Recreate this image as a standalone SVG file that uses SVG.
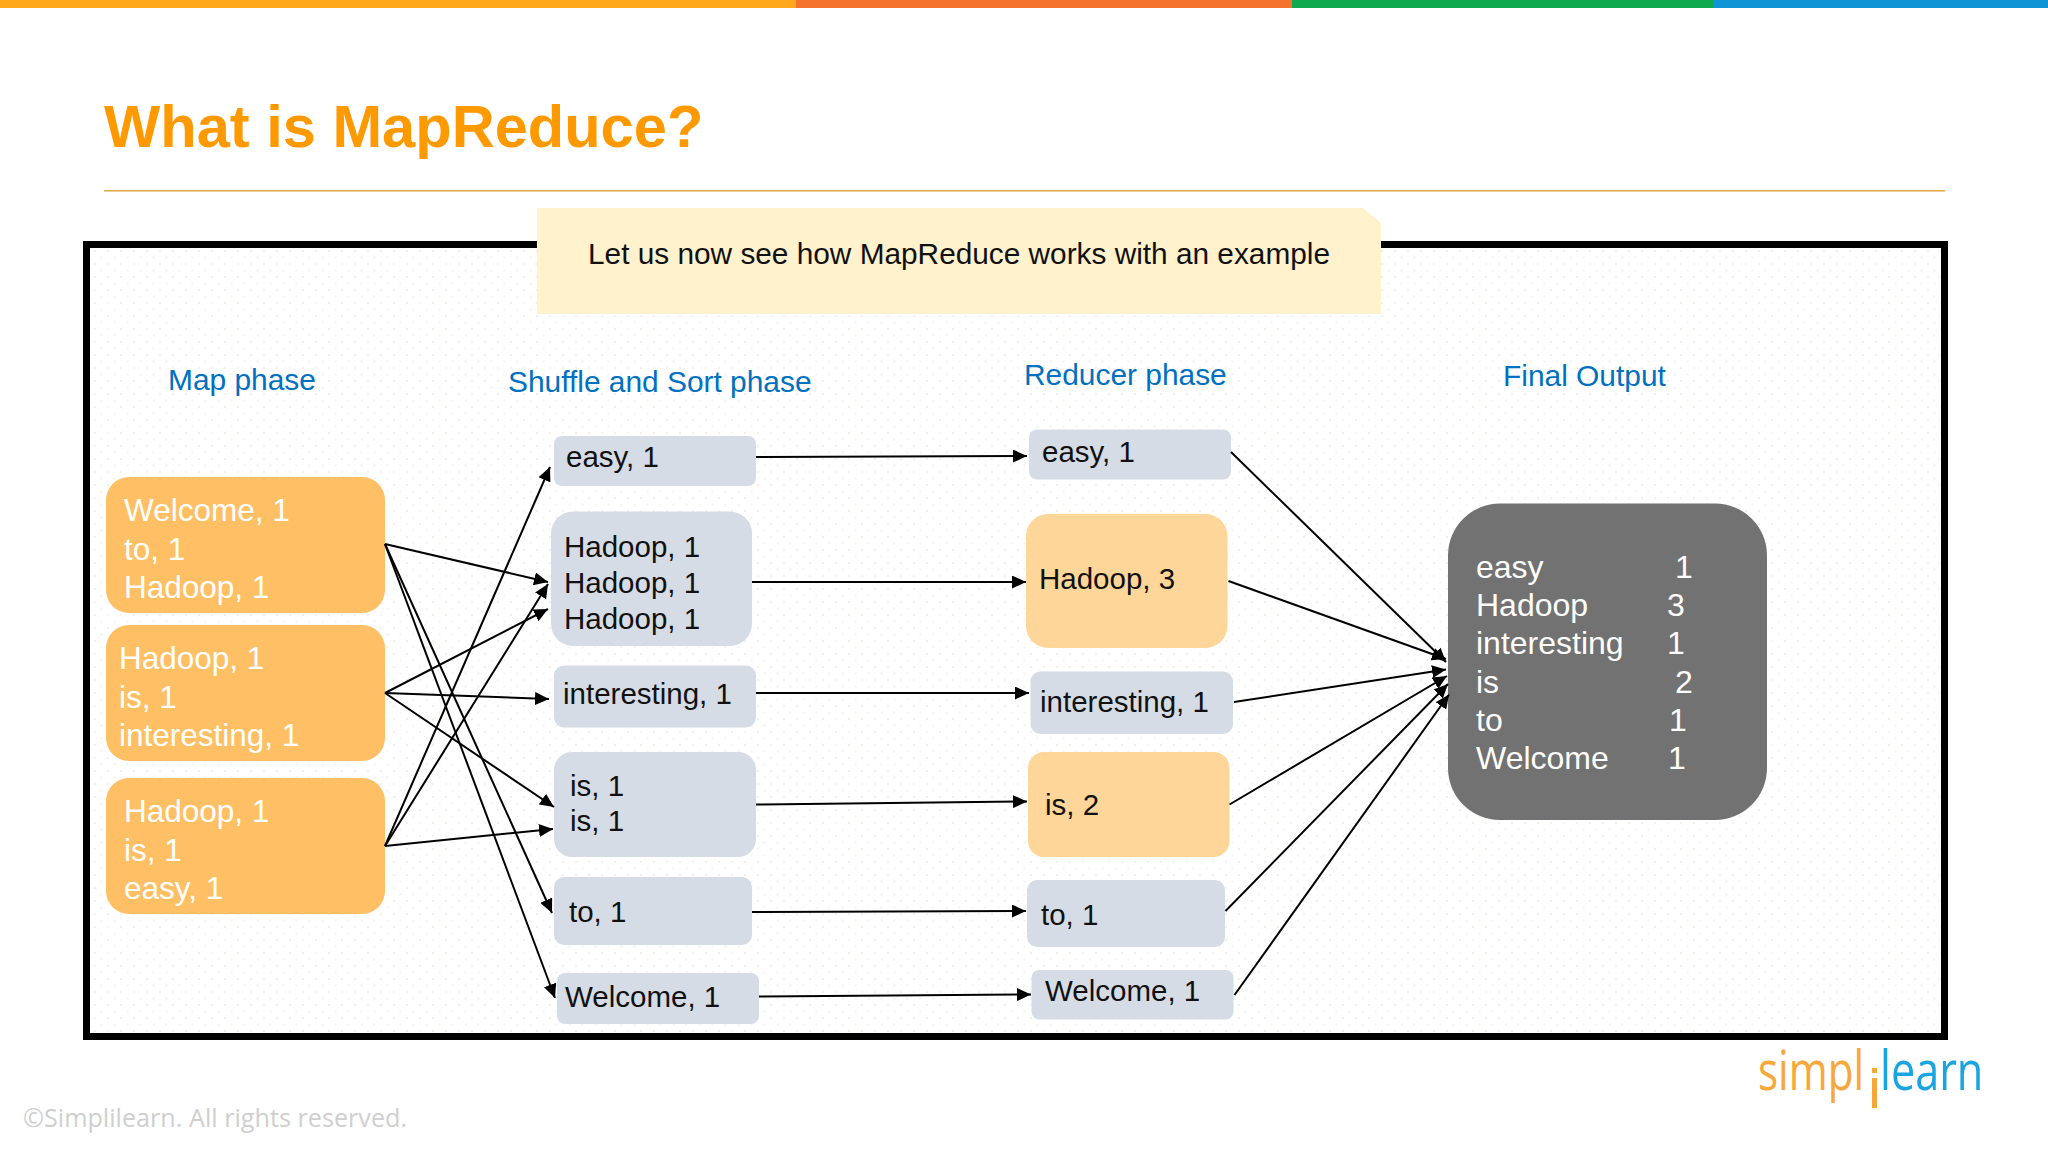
<svg xmlns="http://www.w3.org/2000/svg" width="2048" height="1152" viewBox="0 0 2048 1152">
<style>
text{font-family:"Liberation Sans",Arial,sans-serif}
.map{fill:#FFBF64}.gray{fill:#D6DCE5}.red{fill:#FFD699}
.w{font-size:31.500px;fill:#fff}.k{font-size:29.500px;fill:#111}
.h{font-size:29.900px;fill:#0070C0}.o{font-size:32px;fill:#fff}
.c line{stroke:#000;stroke-width:2;marker-end:url(#a)}
</style>
<defs>
<marker id="a" markerUnits="userSpaceOnUse" markerWidth="15" markerHeight="13" refX="14" refY="6.5" orient="auto"><path d="M0 0L14 6.5L0 13z" fill="#000"/></marker>
<pattern id="d" width="13" height="13" patternUnits="userSpaceOnUse"><rect x="3" y="3" width="2" height="2" fill="#F6F1E8"/><rect x="9.500" y="9.500" width="2" height="2" fill="#F2F2EE"/></pattern>
</defs>
<rect width="2048" height="1152" fill="#fff"/>
<g id="topbar"><rect width="796" height="8" fill="#FFA71A"/><rect x="796" width="496" height="8" fill="#F4722B"/><rect x="1292" width="421" height="8" fill="#0EA84F"/><rect x="1713" width="335" height="8" fill="#0F95D6"/></g>
<text id="title" x="104" y="147" font-size="59.600" font-weight="700" fill="#FF9900">What is MapReduce?</text>
<rect x="104" y="190" width="1841" height="1.6" fill="#E3AE55"/>
<rect id="frame" x="86.5" y="244.500" width="1858" height="792" fill="url(#d)" stroke="#000" stroke-width="7"/>
<g id="callout"><path d="M537 208H1363L1381 223V314H537z" fill="#FFF2CC"/><text x="588" y="264" font-size="29.800" fill="#111">Let us now see how MapReduce works with an example</text></g>
<g id="headers">
<text class="h" x="168" y="390">Map phase</text>
<text class="h" x="508" y="392">Shuffle and Sort phase</text>
<text class="h" x="1024" y="385">Reducer phase</text>
<text class="h" x="1503" y="386">Final Output</text>
</g>
<g id="map1"><rect class="map" x="106" y="477" width="279" height="136" rx="23"/><text class="w" x="124" y="521">Welcome, 1</text><text class="w" x="124" y="560">to, 1</text><text class="w" x="124" y="598">Hadoop, 1</text></g>
<g id="map2"><rect class="map" x="106" y="625" width="279" height="136" rx="23"/><text class="w" x="119" y="669">Hadoop, 1</text><text class="w" x="119" y="708">is, 1</text><text class="w" x="119" y="746">interesting, 1</text></g>
<g id="map3"><rect class="map" x="106" y="778" width="279" height="136" rx="23"/><text class="w" x="124" y="822">Hadoop, 1</text><text class="w" x="124" y="861">is, 1</text><text class="w" x="124" y="899">easy, 1</text></g>
<g id="s-easy"><rect class="gray" x="554" y="436" width="202" height="50" rx="8"/><text class="k" x="566" y="467">easy, 1</text></g>
<g id="s-hadoop"><rect class="gray" x="551" y="511.500" width="201" height="134.500" rx="22"/><text class="k" x="564" y="557">Hadoop, 1</text><text class="k" x="564" y="593">Hadoop, 1</text><text class="k" x="564" y="629">Hadoop, 1</text></g>
<g id="s-interesting"><rect class="gray" x="554" y="665.500" width="202" height="62" rx="10"/><text class="k" x="563" y="704">interesting, 1</text></g>
<g id="s-is"><rect class="gray" x="554" y="752" width="202" height="105" rx="18"/><text class="k" x="570" y="796">is, 1</text><text class="k" x="570" y="831">is, 1</text></g>
<g id="s-to"><rect class="gray" x="554" y="877" width="198" height="68" rx="10"/><text class="k" x="569" y="922">to, 1</text></g>
<g id="s-welcome"><rect class="gray" x="557" y="973" width="202" height="51" rx="8"/><text class="k" x="565" y="1007">Welcome, 1</text></g>
<g id="r-easy"><rect class="gray" x="1029" y="429.500" width="202" height="50" rx="8"/><text class="k" x="1042" y="462">easy, 1</text></g>
<g id="r-hadoop"><rect class="red" x="1026" y="514" width="201.500" height="134" rx="22"/><text class="k" x="1039" y="589">Hadoop, 3</text></g>
<g id="r-interesting"><rect class="gray" x="1030.500" y="671.500" width="202.500" height="62.500" rx="10"/><text class="k" x="1040" y="712">interesting, 1</text></g>
<g id="r-is"><rect class="red" x="1028" y="752" width="201.500" height="105" rx="16"/><text class="k" x="1045" y="815">is, 2</text></g>
<g id="r-to"><rect class="gray" x="1027" y="880" width="198" height="67" rx="10"/><text class="k" x="1041" y="925">to, 1</text></g>
<g id="r-welcome"><rect class="gray" x="1031.500" y="970" width="202" height="49.500" rx="8"/><text class="k" x="1045" y="1001">Welcome, 1</text></g>
<g id="output"><rect x="1448" y="503.500" width="319" height="316.500" rx="52" fill="#727272"/>
<text class="o" x="1476" y="578">easy</text><text class="o" x="1675" y="578">1</text>
<text class="o" x="1476" y="616">Hadoop</text><text class="o" x="1667" y="616">3</text>
<text class="o" x="1476" y="654">interesting</text><text class="o" x="1667" y="654">1</text>
<text class="o" x="1476" y="693">is</text><text class="o" x="1675" y="693">2</text>
<text class="o" x="1476" y="731">to</text><text class="o" x="1669" y="731">1</text>
<text class="o" x="1476" y="769">Welcome</text><text class="o" x="1668" y="769">1</text></g>
<g id="connectors" class="c">
<line x1="385" y1="544" x2="548" y2="582"/><line x1="385" y1="544" x2="552" y2="913"/><line x1="385" y1="544" x2="555" y2="998"/>
<line x1="385" y1="693" x2="548" y2="609"/><line x1="385" y1="693" x2="549" y2="699"/><line x1="385" y1="693" x2="554" y2="807"/>
<line x1="385" y1="846" x2="550" y2="467"/><line x1="385" y1="846" x2="548" y2="584"/><line x1="385" y1="846" x2="553" y2="829"/>
<line x1="756" y1="457" x2="1027" y2="456"/><line x1="752" y1="582" x2="1026" y2="582"/><line x1="756" y1="693" x2="1029" y2="693"/><line x1="756" y1="804.500" x2="1027" y2="801.500"/><line x1="752" y1="912" x2="1026" y2="911"/><line x1="759" y1="996.500" x2="1031" y2="994.500"/>
<line x1="1231" y1="452" x2="1446" y2="662"/><line x1="1228.500" y1="581" x2="1446" y2="659"/><line x1="1234" y1="702" x2="1446" y2="669.500"/><line x1="1229.500" y1="804.500" x2="1447" y2="676"/><line x1="1225.500" y1="911" x2="1448" y2="684"/><line x1="1234.500" y1="995" x2="1449" y2="694.500"/>
</g>
<g id="logo"><text transform="translate(1758 1090) scale(.78 1)" font-size="54" style="font-family:'Open Sans',sans-serif" fill="#F7A83B">simpl</text><rect x="1872" y="1078" width="5" height="30" fill="#F7A83B"/><rect x="1872" y="1068" width="5" height="5" fill="#F7A83B"/><text transform="translate(1880 1090) scale(.8 1)" font-size="54" style="font-family:'Open Sans',sans-serif" fill="#1BA5E0">learn</text></g>
<text id="copyright" x="23" y="1127" font-size="25.200" style="font-family:'Open Sans',sans-serif" fill="#CFCFCF">©Simplilearn. All rights reserved.</text>
</svg>
